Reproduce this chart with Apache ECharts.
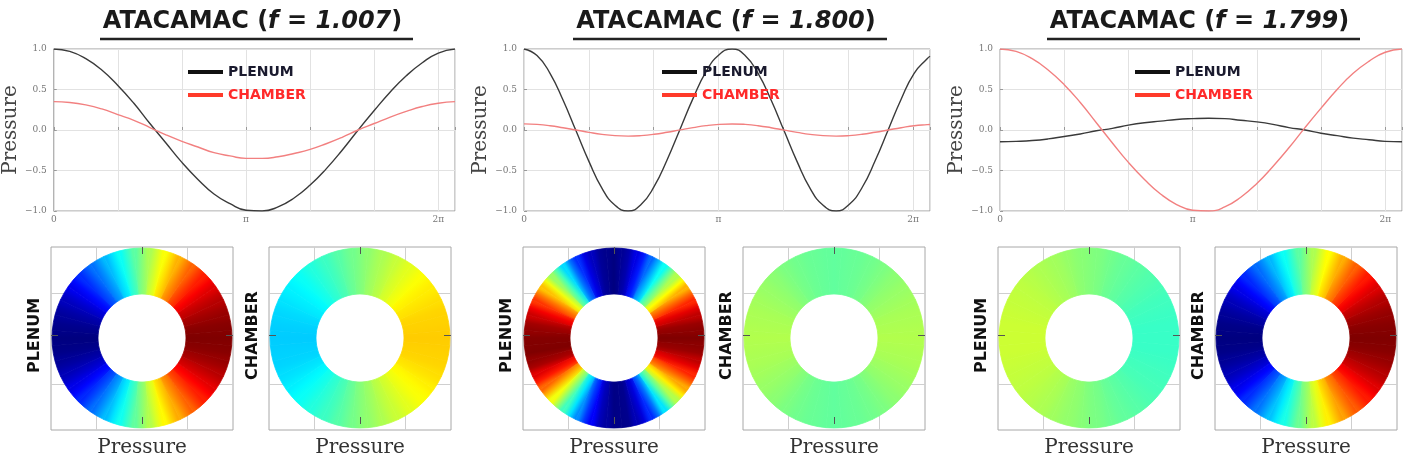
<!DOCTYPE html>
<html>
<head>
<meta charset="utf-8">
<script src="https://cdn.jsdelivr.net/npm/echarts@6/dist/echarts.min.js"></script>
<style>
  html, body { margin: 0; background: #fff; }
  #chart { width: 1410px; height: 459px; }
</style>
</head>
<body>
<div id="chart"></div>
<script>
// phase along the x axis (radians), step pi/12, last point is the right edge
const phase = [0, 0.262, 0.524, 0.785, 1.047, 1.309, 1.571, 1.833, 2.094, 2.356, 2.618, 2.880,
  3.142, 3.403, 3.665, 3.927, 4.189, 4.451, 4.712, 4.974, 5.236, 5.498, 5.760, 6.021, 6.283, 6.556];
// finer phase for the faster f = 1.800 curves
const phase2 = [0, 0.21, 0.42, 0.63, 0.84, 1.05, 1.26, 1.47, 1.68, 1.89, 2.10, 2.31, 2.52, 2.73, 2.94, 3.15,
  3.36, 3.57, 3.78, 3.99, 4.20, 4.41, 4.62, 4.83, 5.04, 5.25, 5.46, 5.67, 5.88, 6.09, 6.30, 6.51, 6.556];

// f = 1.007
const plenum1 = [1.00, 0.97, 0.88, 0.74, 0.55, 0.33, 0.08, -0.16, -0.40, -0.61, -0.79, -0.91,
  -0.99, -1.00, -0.95, -0.84, -0.68, -0.48, -0.25, 0.00, 0.24, 0.47, 0.67, 0.83, 0.95, 1.00];
const chamber1 = [0.35, 0.34, 0.31, 0.26, 0.19, 0.12, 0.03, -0.06, -0.14, -0.21, -0.28, -0.32,
  -0.35, -0.35, -0.33, -0.29, -0.24, -0.17, -0.09, 0.00, 0.08, 0.16, 0.23, 0.29, 0.33, 0.35];
// f = 1.800 (on phase2)
const plenum2 = [1.00, 0.92, 0.70, 0.37, -0.01, -0.39, -0.72, -0.93, -1.00, -0.92, -0.70, -0.37, 0.01, 0.39, 0.72, 0.93,
  1.00, 0.92, 0.70, 0.37, -0.01, -0.39, -0.72, -0.93, -1.00, -0.92, -0.71, -0.38, 0.00, 0.38, 0.70, 0.88, 0.91];
const chamber2 = [0.075, 0.069, 0.053, 0.028, 0.000, -0.029, -0.054, -0.070, -0.075, -0.069, -0.053, -0.028, 0.001, 0.029, 0.054, 0.070,
  0.075, 0.069, 0.053, 0.028, -0.001, -0.029, -0.054, -0.070, -0.075, -0.069, -0.053, -0.028, 0.000, 0.028, 0.053, 0.066, 0.068];
// f = 1.799
const plenum3 = [-0.145, -0.14, -0.13, -0.11, -0.08, -0.05, -0.01, 0.02, 0.06, 0.09, 0.11, 0.13,
  0.14, 0.145, 0.14, 0.12, 0.10, 0.07, 0.03, 0.00, -0.04, -0.07, -0.10, -0.12, -0.14, -0.145];
const chamber3 = [1.00, 0.97, 0.88, 0.74, 0.56, 0.34, 0.09, -0.16, -0.40, -0.61, -0.79, -0.92,
  -0.99, -1.00, -0.95, -0.83, -0.66, -0.45, -0.22, 0.03, 0.27, 0.50, 0.70, 0.85, 0.96, 1.00];

// pressure around the annulus, every 10 degrees counter-clockwise from the right
const ringAngles = [0, 10, 20, 30, 40, 50, 60, 70, 80, 90, 100, 110, 120, 130, 140, 150, 160, 170,
  180, 190, 200, 210, 220, 230, 240, 250, 260, 270, 280, 290, 300, 310, 320, 330, 340, 350];
const ringPlenum1 = [1.00, 0.98, 0.93, 0.86, 0.76, 0.63, 0.48, 0.32, 0.16, 0.01, -0.15, -0.31,
  -0.46, -0.60, -0.73, -0.84, -0.92, -0.97, -1.00, -0.98, -0.93, -0.85, -0.74, -0.61,
  -0.46, -0.30, -0.14, 0.02, 0.18, 0.34, 0.49, 0.63, 0.75, 0.85, 0.93, 0.98];
const ringChamber1 = [0.35, 0.34, 0.33, 0.30, 0.27, 0.22, 0.17, 0.11, 0.06, 0.00, -0.05, -0.11,
  -0.16, -0.21, -0.26, -0.29, -0.32, -0.34, -0.35, -0.34, -0.33, -0.30, -0.26, -0.21,
  -0.16, -0.11, -0.05, 0.01, 0.06, 0.12, 0.17, 0.22, 0.26, 0.30, 0.33, 0.34];
const ringPlenum2 = [1.00, 0.95, 0.80, 0.55, 0.25, -0.06, -0.40, -0.70, -0.91, -1.00, -0.95, -0.80,
  -0.52, -0.12, 0.22, 0.52, 0.77, 0.93, 0.99, 1.00, 0.92, 0.70, 0.40, 0.05,
  -0.30, -0.64, -0.88, -0.99, -0.97, -0.82, -0.52, -0.08, 0.28, 0.56, 0.80, 0.95];
const ringChamber2 = [0.10, 0.09, 0.08, 0.06, 0.04, 0.01, -0.02, -0.04, -0.05, -0.06, -0.05, -0.04,
  -0.02, 0.01, 0.04, 0.06, 0.08, 0.09, 0.10, 0.09, 0.08, 0.06, 0.04, 0.01,
  -0.02, -0.04, -0.05, -0.06, -0.05, -0.04, -0.02, 0.01, 0.04, 0.06, 0.08, 0.09];
const ringPlenum3 = [-0.14, -0.14, -0.13, -0.12, -0.10, -0.08, -0.06, -0.04, -0.01, 0.01, 0.03, 0.06,
  0.08, 0.10, 0.12, 0.13, 0.14, 0.15, 0.15, 0.15, 0.14, 0.13, 0.12, 0.10,
  0.08, 0.05, 0.03, 0.00, -0.02, -0.05, -0.07, -0.09, -0.11, -0.12, -0.13, -0.14];
const ringChamber3 = [1.00, 0.98, 0.94, 0.87, 0.77, 0.64, 0.49, 0.33, 0.17, 0.01, -0.15, -0.31,
  -0.47, -0.61, -0.74, -0.85, -0.93, -0.98, -1.00, -0.98, -0.93, -0.85, -0.74, -0.60,
  -0.45, -0.29, -0.12, 0.04, 0.20, 0.36, 0.51, 0.64, 0.76, 0.86, 0.93, 0.98];

const freqs = ['1.007', '1.800', '1.799'];
const xTickLabels = ['0', '', '', 'π', '', '', '2π', ''];
const yTickLabels = ['−1.0', '−0.5', '0.0', '0.5', '1.0'];

const panels = [
  { x: phase, plenum: plenum1, chamber: chamber1, rings: [ringPlenum1, ringChamber1] },
  { x: phase2, plenum: plenum2, chamber: chamber2, rings: [ringPlenum2, ringChamber2] },
  { x: phase, plenum: plenum3, chamber: chamber3, rings: [ringPlenum3, ringChamber3] }
];

// layout
const lineGrids = [
  { left: 53, width: 402 }, { left: 524, width: 406 }, { left: 1000, width: 402 }
];
const legendLeft = [183, 657, 1130];
const titleBox = [[100, 413], [573, 887], [1047, 1360]];
const ringLeft = [51, 269, 523, 743, 998, 1215];
const ringTop = 247, ringSize = 182, ringCy = 338, ringR = [44, 90];

const jet = ['#00007f', '#0000ff', '#007fff', '#00ffff', '#7fff7f', '#ffff00', '#ff7f00', '#ff0000', '#7f0000'];
const jetColor = v => echarts.color.lerp((v + 1) / 2, jet);
const serif = 'DejaVu Serif', sans = 'DejaVu Sans';

const grid = [], xAxis = [], yAxis = [], series = [], legend = [], polar = [], angleAxis = [], radiusAxis = [], graphic = [];

panels.forEach((p, i) => {
  grid.push({ left: lineGrids[i].left, top: 49, width: lineGrids[i].width, height: 162,
    show: true, borderColor: '#9a9a9a', borderWidth: 1 });
  xAxis.push({
    gridIndex: i, type: 'value', min: 0, max: 6.556, interval: Math.PI / 3,
    axisLine: { show: false },
    axisTick: { show: true, inside: true, length: 3, lineStyle: { color: '#999' } },
    axisLabel: { formatter: (v, k) => xTickLabels[k] || '', fontFamily: serif, fontSize: 9, color: '#777', margin: 4 },
    splitLine: { lineStyle: { color: '#e2e2e2' } }
  });
  yAxis.push({
    gridIndex: i, type: 'value', min: -1, max: 1, interval: 0.5,
    axisLine: { show: false },
    axisTick: { show: true, inside: true, length: 3, lineStyle: { color: '#999' } },
    axisLabel: { formatter: (v, k) => yTickLabels[k], fontFamily: serif, fontSize: 9, color: '#777', margin: 7 },
    splitLine: { lineStyle: { color: '#e2e2e2' } },
    name: 'Pressure', nameLocation: 'middle', nameGap: 30,
    nameTextStyle: { fontFamily: serif, fontSize: 20, color: '#444' }
  });
  series.push({
    name: 'PLENUM', type: 'line', xAxisIndex: i, yAxisIndex: i, smooth: true, showSymbol: false,
    lineStyle: { color: '#3a3a3a', width: 1.4 }, itemStyle: { color: '#111' },
    data: p.x.map((x, k) => [x, p.plenum[k]])
  });
  series.push({
    name: 'CHAMBER', type: 'line', xAxisIndex: i, yAxisIndex: i, smooth: true, showSymbol: false,
    lineStyle: { color: '#f28080', width: 1.4 }, itemStyle: { color: '#ff3a2a' },
    data: p.x.map((x, k) => [x, p.chamber[k]])
  });
  legend.push({
    left: legendLeft[i], top: 60, orient: 'vertical', itemGap: 9, itemWidth: 35, itemHeight: 4, icon: 'rect',
    textStyle: { fontFamily: sans, fontWeight: 'bold', fontSize: 14 },
    data: [
      { name: 'PLENUM', itemStyle: { color: '#111' }, textStyle: { color: '#1a1a2e' } },
      { name: 'CHAMBER', itemStyle: { color: '#ff3a2a' }, textStyle: { color: '#ff2a2a' } }
    ]
  });
  // title with underline
  const [ta, tb] = titleBox[i];
  graphic.push({
    type: 'text', x: (ta + tb) / 2 - 4, y: 22,
    style: {
      text: '{a|ATACAMAC (}{b|f = ' + freqs[i] + '}{a|)}',
      align: 'center', verticalAlign: 'middle',
      rich: {
        a: { fontFamily: sans, fontWeight: 'bold', fontSize: 24, fill: '#1a1a1a' },
        b: { fontFamily: sans, fontWeight: 'bold', fontStyle: 'italic', fontSize: 24, fill: '#1a1a1a' }
      }
    }
  });
  graphic.push({ type: 'line', shape: { x1: ta, y1: 39, x2: tb, y2: 39 }, style: { stroke: '#222', lineWidth: 2.5 } });
});

// ring panels
const ringNames = ['PLENUM', 'CHAMBER'];
const ringCount = ringLeft.length;
ringLeft.forEach((L, k) => {
  const vals = panels[Math.floor(k / 2)].rings[k % 2];
  const gLow = 3 + k, gHigh = 3 + ringCount + k;
  grid[gLow] = { left: L, top: ringTop, width: ringSize, height: ringSize + 1, show: true, borderColor: '#a8a8a8', borderWidth: 1 };
  grid[gHigh] = { left: L, top: ringTop, width: ringSize, height: ringSize + 1 };
  const low = {
    type: 'value', min: -1, max: 1, interval: 1,
    axisLine: { show: false, onZero: false }, axisTick: { show: false }, axisLabel: { show: false },
    splitLine: { show: false },
    minorTick: { show: false, splitNumber: 2 },
    minorSplitLine: { show: true, lineStyle: { color: '#cfcfcf' } }
  };
  // only the middle tick of each edge is drawn, on top of the ring
  const tick = {
    type: 'category', data: ['', '', ''], boundaryGap: false, zlevel: 1,
    axisLine: { show: false, onZero: false }, axisLabel: { show: false }, splitLine: { show: false },
    axisTick: { show: true, inside: true, length: 7, interval: idx => idx === 1, lineStyle: { color: '#555' } }
  };
  xAxis.push(Object.assign({ gridIndex: gLow }, low));
  yAxis.push(Object.assign({ gridIndex: gLow }, low));
  xAxis.push(Object.assign({ gridIndex: gHigh, position: 'bottom',
    name: 'Pressure', nameLocation: 'middle', nameGap: 14,
    nameTextStyle: { fontFamily: serif, fontSize: 20, color: '#333' } }, tick));
  xAxis.push(Object.assign({ gridIndex: gHigh, position: 'top' }, tick));
  yAxis.push(Object.assign({ gridIndex: gHigh, position: 'left',
    name: ringNames[k % 2], nameLocation: 'middle', nameGap: 8, nameRotate: 90,
    nameTextStyle: { fontFamily: sans, fontWeight: 'bold', fontSize: 16, color: '#111' } }, tick));
  yAxis.push(Object.assign({ gridIndex: gHigh, position: 'right' }, tick));

  const cx = L + ringSize / 2, rm = (ringR[0] + ringR[1]) / 2, n = vals.length;
  polar.push({ center: [cx, ringCy], radius: ringR });
  angleAxis.push({ polarIndex: k, type: 'category', data: ringAngles, startAngle: -5, clockwise: false, show: false });
  radiusAxis.push({ polarIndex: k, type: 'value', min: 0, max: 1, show: false });
  series.push({
    type: 'bar', coordinateSystem: 'polar', polarIndex: k, barCategoryGap: '0%', silent: true, z: 1,
    data: vals.map((v, i) => {
      // shade each sector across its width, like interpolated shading
      const prev = vals[(i + n - 1) % n], next = vals[(i + 1) % n];
      const a0 = (ringAngles[i] - 5) * Math.PI / 180, a1 = (ringAngles[i] + 5) * Math.PI / 180;
      const fill = {
        type: 'linear', global: true,
        x: cx + rm * Math.cos(a0), y: ringCy - rm * Math.sin(a0),
        x2: cx + rm * Math.cos(a1), y2: ringCy - rm * Math.sin(a1),
        colorStops: [
          { offset: 0, color: jetColor((prev + v) / 2) },
          { offset: 0.5, color: jetColor(v) },
          { offset: 1, color: jetColor((v + next) / 2) }
        ]
      };
      return { value: 1, itemStyle: { color: fill, borderColor: fill, borderWidth: 0.8 } };
    })
  });
});

const chart = echarts.init(document.getElementById('chart'));
chart.setOption({
  animation: false,
  backgroundColor: '#fff',
  grid, xAxis, yAxis, series, legend, polar, angleAxis, radiusAxis, graphic
});
window.addEventListener('resize', () => chart.resize());
</script>
</body>
</html>
